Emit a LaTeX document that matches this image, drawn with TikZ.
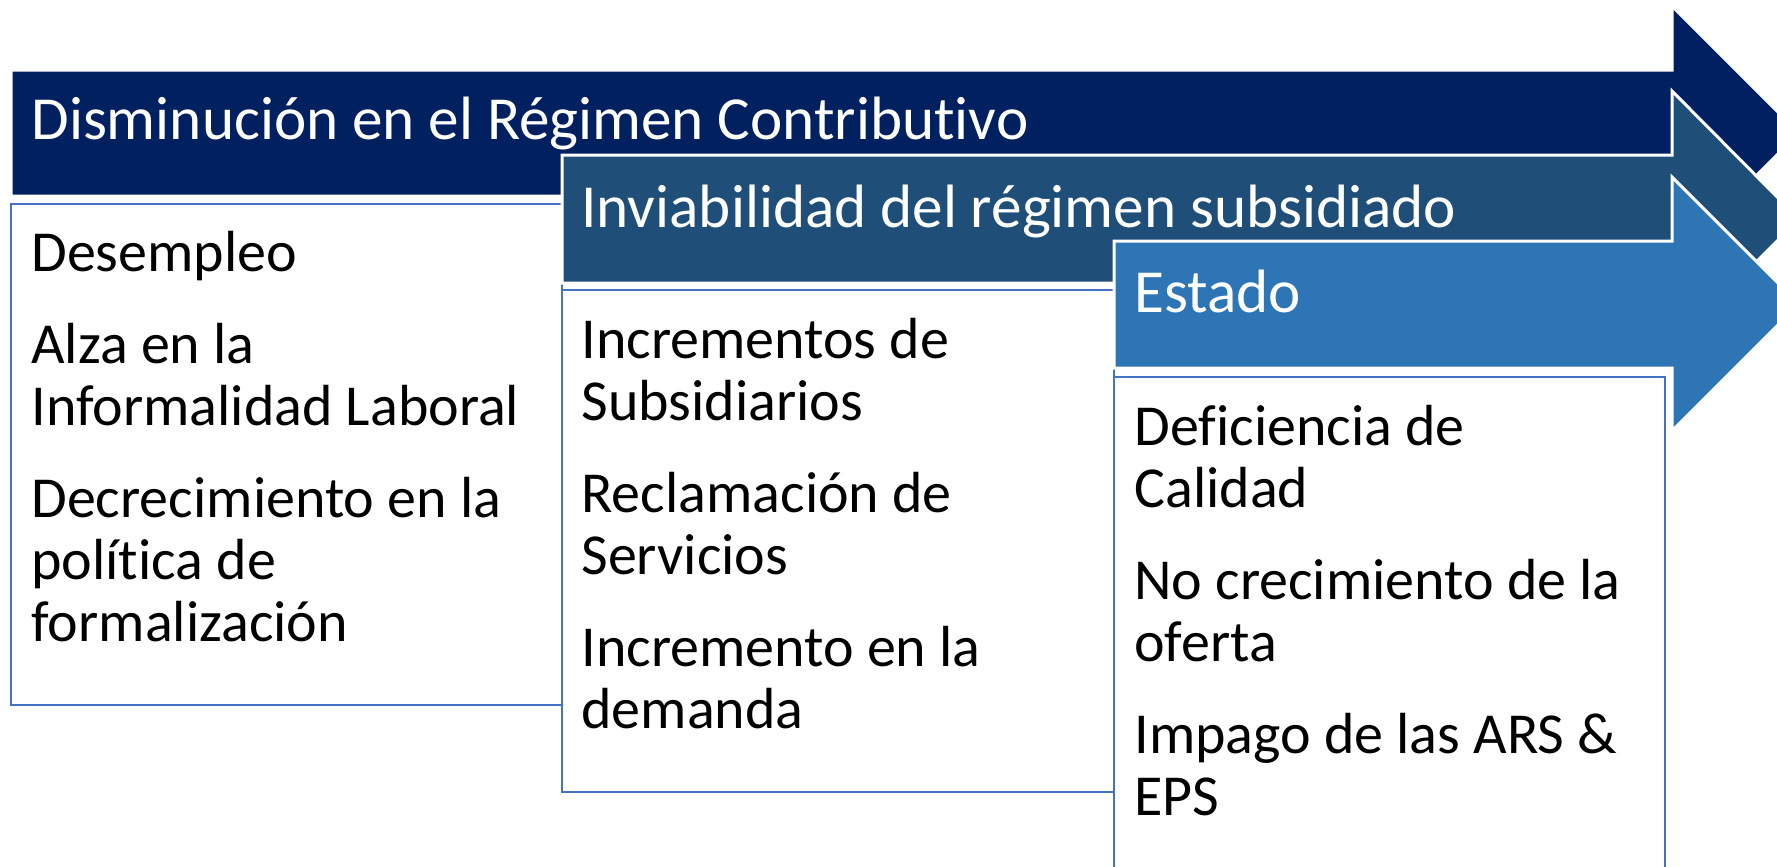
\documentclass[tikz,border=0pt]{standalone}
\usepackage{fontspec}
\setmainfont{Carlito}[Ligatures=CommonOff]
\usepackage{xcolor}
\definecolor{navy}{HTML}{002060}
\definecolor{steel}{HTML}{1F4E79}
\definecolor{azure}{HTML}{2E75B6}
\definecolor{frame}{HTML}{4472C4}

\begin{document}
\begin{tikzpicture}[x=0.5pt, y=-0.5pt,
  every node/.style={font=\fontsize{29}{31}\selectfont, inner sep=0pt},
  banner/.style={draw=white, line width=1.5pt, line join=miter},
  listbox/.style={draw=frame, fill=white, line width=1.2pt},
  heading/.style={anchor=base west, text=white, font=\fontsize{30.6}{33}\selectfont},
  items/.style={anchor=base west, align=left, text=black}]
\useasboundingbox (0,0) rectangle (1777,867);
\clip (0,0) rectangle (1777,867);

% First arrow and its list
\fill[navy, banner] (11,70) -- (1672,70) -- (1672,6) -- (1799,133) -- (1672,260) -- (1672,196) -- (11,196) -- cycle;
\node[heading] (contrib) at (31,139) {Disminución en el Régimen Contributivo};
\draw[listbox] (11,204) rectangle (562,705);
% (base of a multi-line node = its last line)
\node[items] (causes) at (31,641) {Desempleo\\[15pt]
  Alza en la\\Informalidad Laboral\\[15pt]
  Decrecimiento en la\\política de\\formalización};

% Second arrow and its list
\fill[steel, banner] (562,155) -- (1672,155) -- (1672,91) -- (1799,219) -- (1672,347) -- (1672,283) -- (562,283) -- cycle;
\node[heading] (subsid) at (581,227) {Inviabilidad del régimen subsidiado};
\draw[listbox] (562,290) rectangle (1114,792);
\node[items] (effects) at (581,728) {Incrementos de\\Subsidiarios\\[15pt]
  Reclamación de\\Servicios\\[15pt]
  Incremento en la\\demanda};

% Third arrow and its list
\fill[azure, banner] (1114,241) -- (1672,241) -- (1672,177) -- (1799,304) -- (1672,431) -- (1672,368) -- (1114,368) -- cycle;
\node[heading] (estado) at (1134,312) {Estado};
\draw[listbox] (1114,377) rectangle (1665,878);
\node[items] (faults) at (1134,815) {Deficiencia de\\Calidad\\[15pt]
  No crecimiento de la\\oferta\\[15pt]
  Impago de las ARS \&\\EPS};
\end{tikzpicture}
\end{document}
